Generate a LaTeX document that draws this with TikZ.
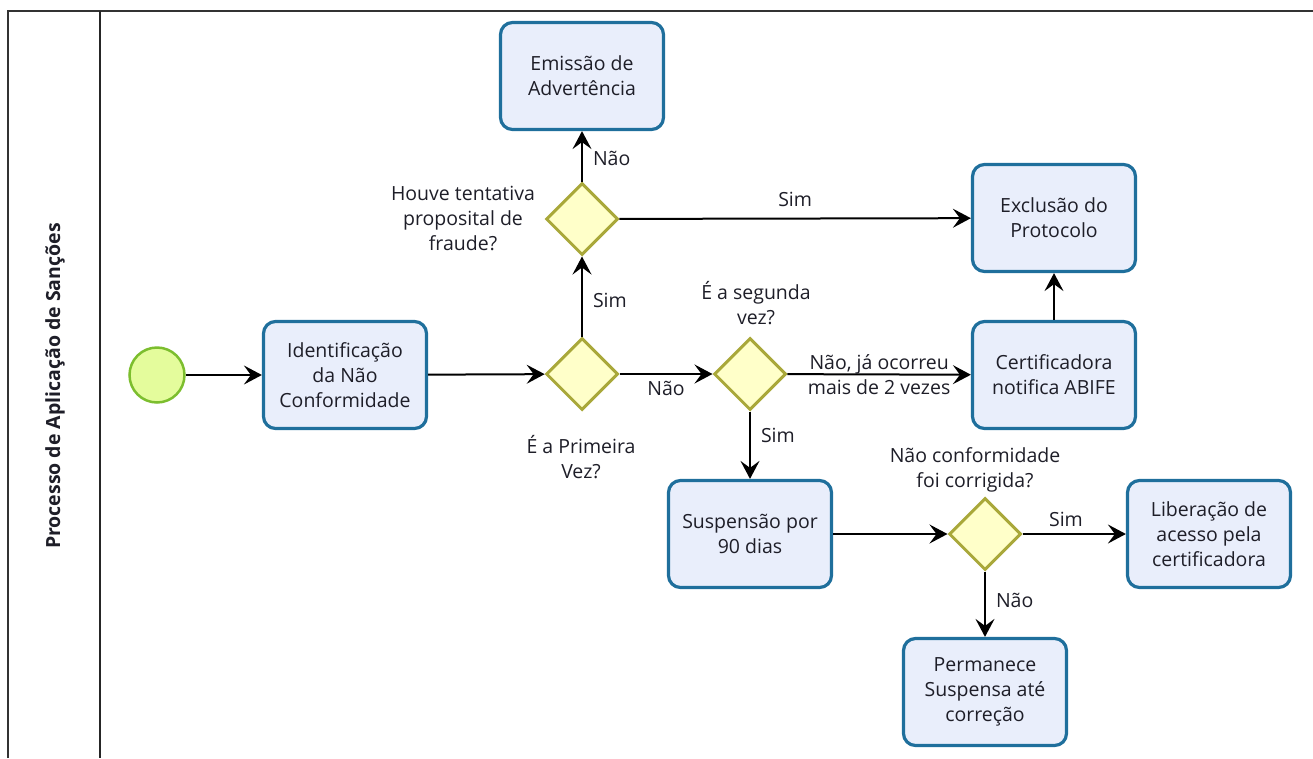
\documentclass[tikz,border=0pt]{standalone}
\usepackage{fontspec}
\setmainfont{Open Sans}
\usetikzlibrary{shapes.geometric,arrows.meta}
\definecolor{taskfill}{HTML}{E9EEFB}
\definecolor{taskdraw}{HTML}{1F6F9C}
\definecolor{gwfill}{HTML}{FFFFC9}
\definecolor{gwdraw}{HTML}{A9A83A}
\definecolor{evfill}{HTML}{E4FC9C}
\definecolor{evdraw}{HTML}{7CBE2E}
\definecolor{txt}{HTML}{1E1E28}
\tikzset{
  task/.style={draw=taskdraw,fill=taskfill,line width=3.2pt,rounded corners=12pt,
    minimum width=163pt,minimum height=107pt,align=center,text=txt,
    font=\fontsize{19.5}{25}\selectfont,inner sep=2pt},
  gw/.style={diamond,draw=gwdraw,fill=gwfill,line width=3pt,minimum size=72pt,inner sep=0pt,aspect=1},
  ev/.style={circle,draw=evdraw,fill=evfill,line width=2.5pt,minimum size=55pt,inner sep=0pt},
  lbl/.style={align=center,text=txt,font=\fontsize{19.5}{25}\selectfont,inner sep=0pt},
  flow/.style={line width=2pt,-{Stealth[length=18pt,width=19pt,inset=7pt]}},
  frame/.style={line width=2.2pt,draw=black!80}
}
\begin{document}
\begin{tikzpicture}[x=1pt,y=-1pt]
\useasboundingbox (0,0) rectangle (1313,758);
% frame
\draw[frame] (8,758) -- (8,11) -- (1313,11);
\draw[line width=1.8pt,draw=black!85] (100,11) -- (100,758);
\node[rotate=90,font=\bfseries\fontsize{19.5}{22}\selectfont,text=txt] (lane) at (55,386) {Processo de Aplicação de Sanções};
% nodes
\node[ev] (start) at (157,375) {};
\node[task] (ident) at (345,375) {Identificação\\da Não\\Conformidade};
\node[gw] (d1) at (582,374) {};
\node[gw] (d2) at (582,219) {};
\node[task] (emis) at (582,76) {Emissão de\\Advertência};
\node[task] (excl) at (1054,218) {Exclusão do\\Protocolo};
\node[gw] (d3) at (750,374) {};
\node[task] (cert) at (1054,375) {Certificadora\\notifica ABIFE};
\node[task] (susp) at (750,534) {Suspensão por\\90 dias};
\node[gw] (d4) at (985,534) {};
\node[task] (lib) at (1209,534) {Liberação de\\acesso pela\\certificadora};
\node[task] (perm) at (985,692) {Permanece\\Suspensa até\\correção};
% gateway labels
\node[lbl] (q1) at (581,457) {É a Primeira\\Vez?};
\node[lbl] (q2) at (463,218) {Houve tentativa\\proposital de\\fraude?};
\node[lbl] (q3) at (756,303) {É a segunda\\vez?};
\node[lbl] (q4) at (975,470) {Não conformidade\\foi corrigida?};
% flows
\draw[flow] (start) -- (ident);
\draw[flow] (ident) -- (d1);
\draw[flow] (d1) -- node[lbl,right=10pt,pos=0.45] (l1) {Sim} (d2);
\draw[flow] (d2) -- node[lbl,right=10pt,pos=0.45] (l2) {Não} (emis);
\draw[flow] (d2) -- node[lbl,above=11pt,pos=0.5] (l3) {Sim} (excl);
\draw[flow] (d1) -- node[lbl,below=6pt,pos=0.5] (l4) {Não} (d3);
\draw[flow] (d3) -- node[lbl,pos=0.5] (l5) {Não, já ocorreu\\mais de 2 vezes} (cert);
\draw[flow] (d3) -- node[lbl,right=10pt,pos=0.35] (l6) {Sim} (susp);
\draw[flow] (cert) -- (excl);
\draw[flow] (susp) -- (d4);
\draw[flow] (d4) -- node[lbl,above=6pt,pos=0.42] (l7) {Sim} (lib);
\draw[flow] (d4) -- node[lbl,right=10pt,pos=0.45] (l8) {Não} (perm);
\end{tikzpicture}
\end{document}
